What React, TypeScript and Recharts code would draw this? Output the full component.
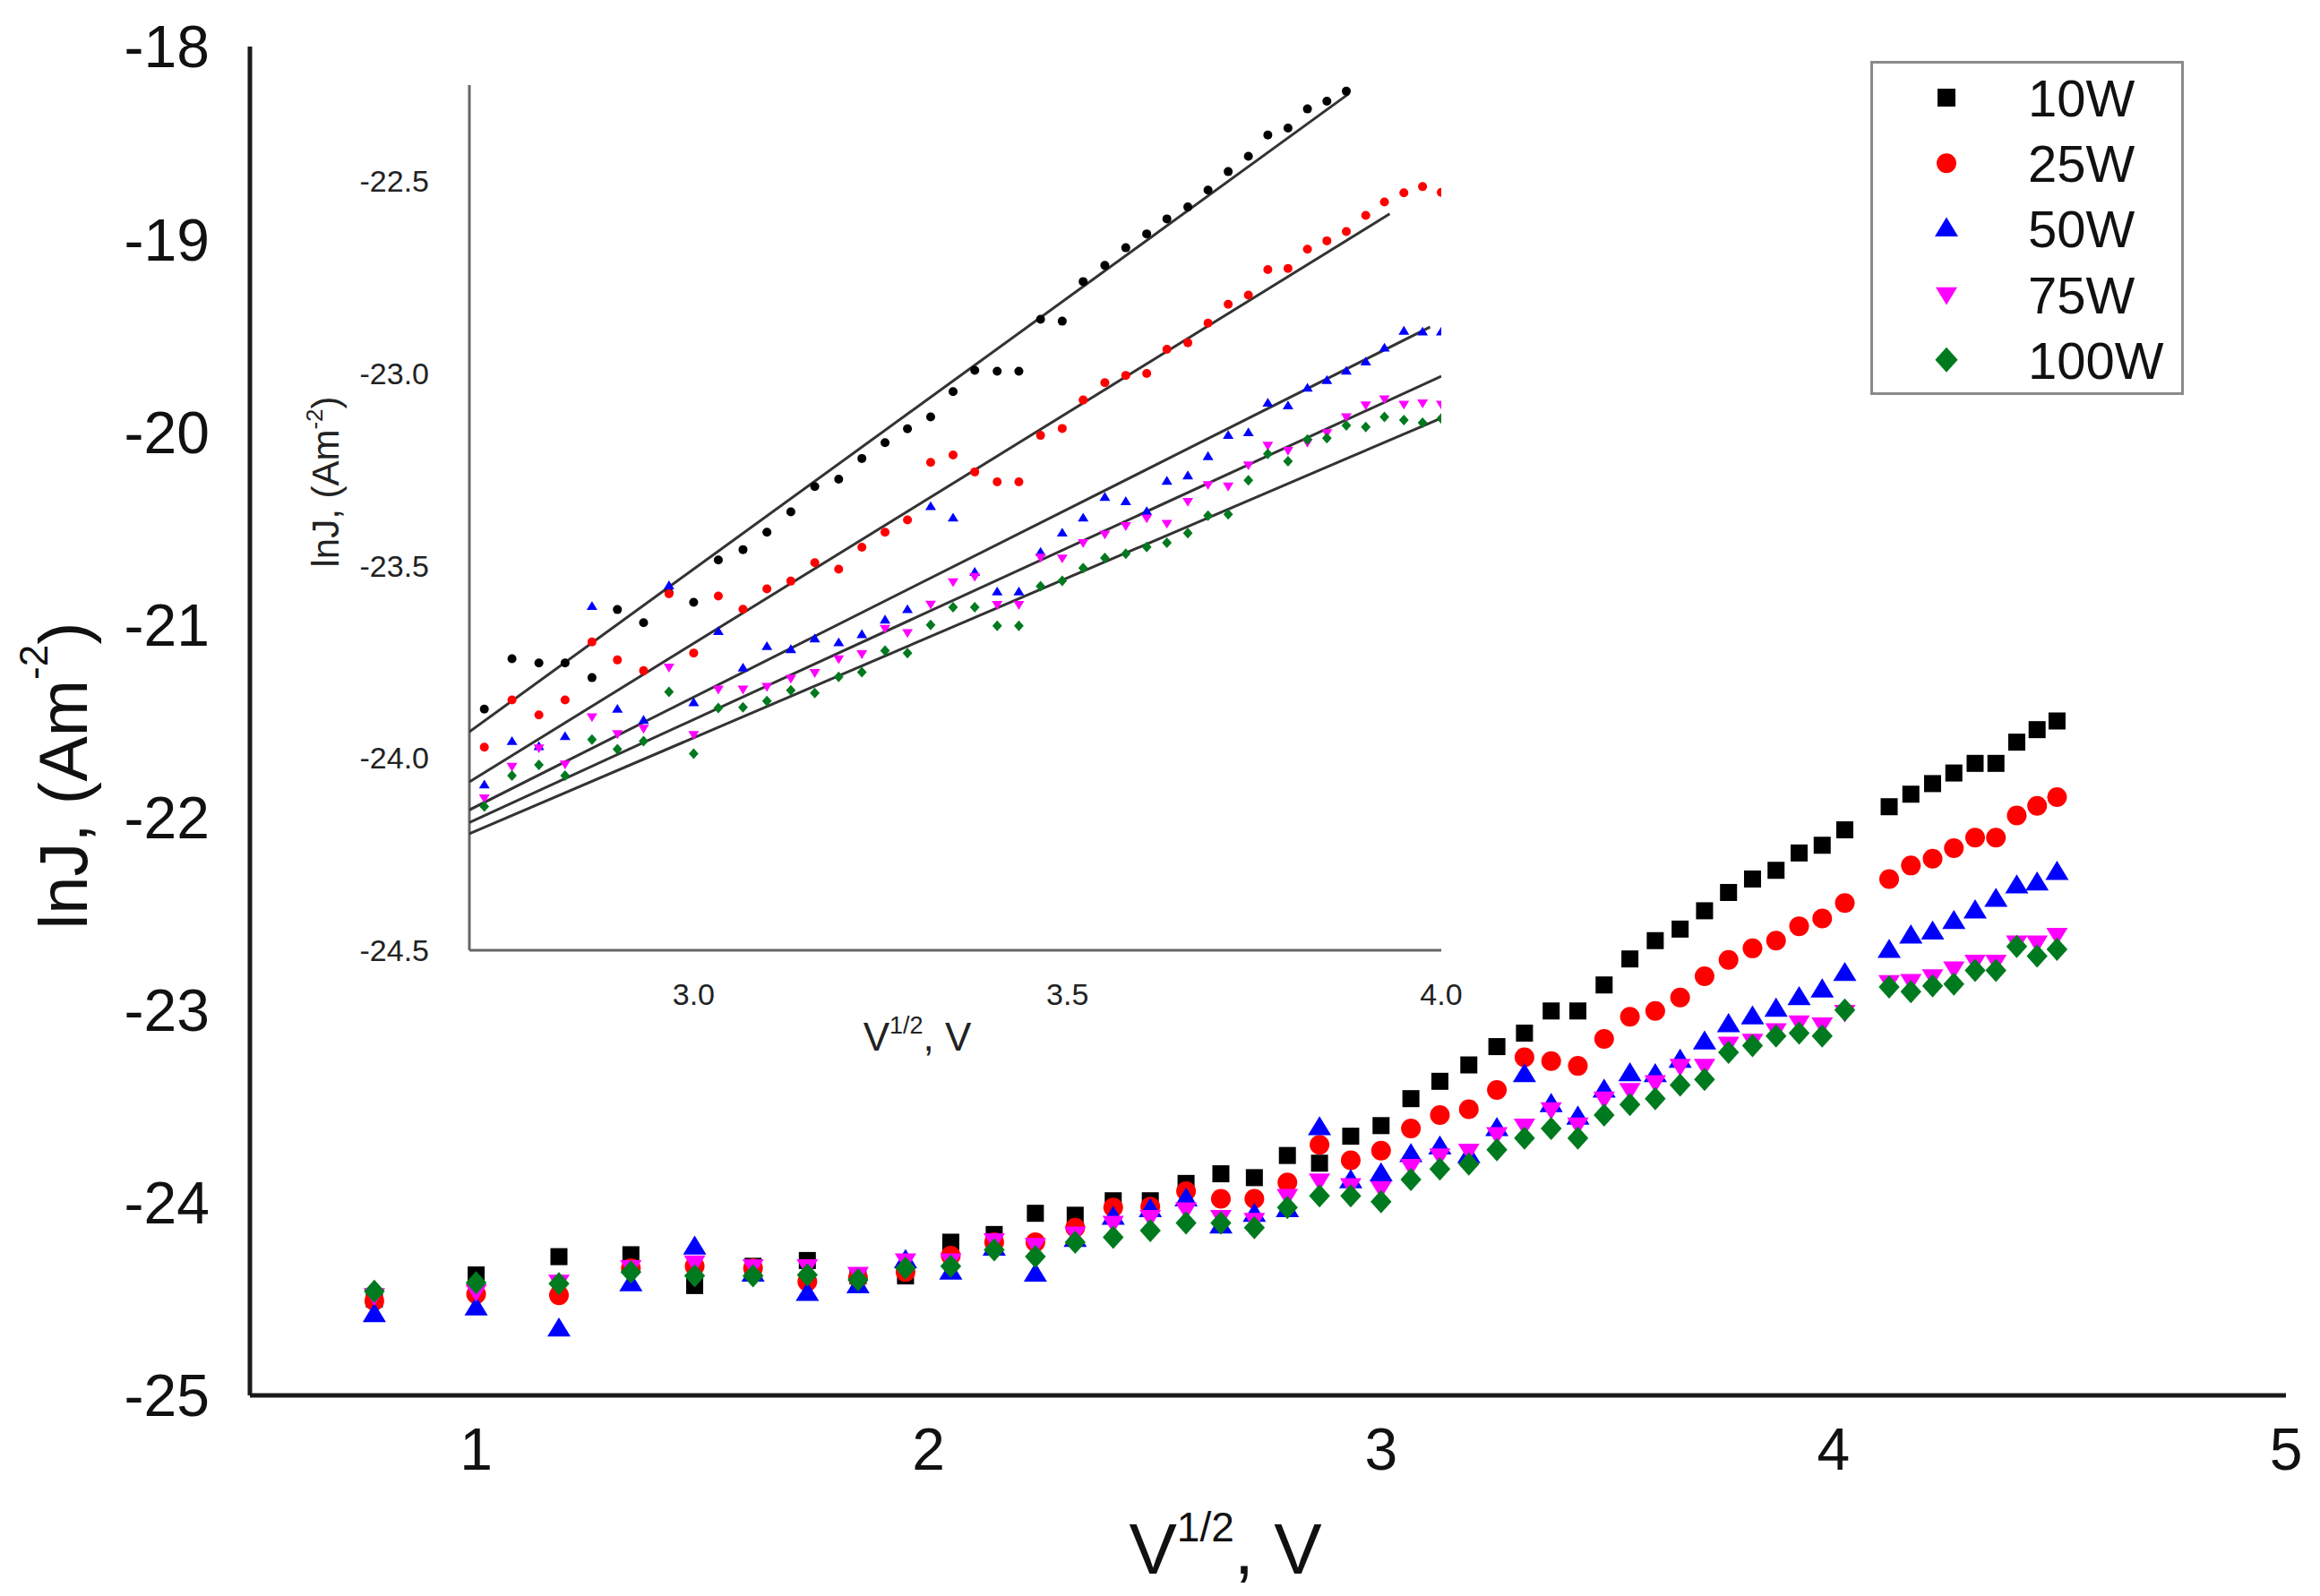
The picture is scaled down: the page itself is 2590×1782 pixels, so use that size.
import React from "react";
import { ScatterChart, Scatter, XAxis, YAxis, Legend } from "recharts";

const FONT = '"Liberation Sans", Arial, Helvetica, sans-serif';

const SERIES_NAMES = ["10W", "25W", "50W", "75W", "100W"];
const SERIES_COLORS = ["#000000", "#ff0000", "#0000ff", "#ff00ff", "#007a1e"];
const MAIN_SHAPES = ["square", "circle", "triangle", "triangleDown", "diamond"];
const INSET_SHAPES = ["circle", "circle", "triangle", "triangleDown", "diamond"];

// ---- main plot (V^1/2 vs lnJ) ----
const MAIN_X = [
  0.775, 1.0, 1.183, 1.342, 1.483, 1.612, 1.732, 1.844, 1.949, 2.049,
  2.145, 2.236, 2.324, 2.408, 2.49, 2.569, 2.646, 2.72, 2.793, 2.864,
  2.933, 3.0, 3.066, 3.13, 3.194, 3.256, 3.317, 3.376, 3.435, 3.493,
  3.55, 3.606, 3.661, 3.715, 3.768, 3.821, 3.873, 3.924, 3.975, 4.025,
  4.123, 4.171, 4.219, 4.266, 4.313, 4.359, 4.405, 4.45, 4.494,
];
const MAIN_10W = [
  -24.5, -24.375, -24.28, -24.27, -24.43, -24.33, -24.3, -24.38, -24.38, -24.205,
  -24.165, -24.055, -24.065, -23.99, -23.99, -23.9, -23.85, -23.87, -23.755, -23.795,
  -23.655, -23.6, -23.46, -23.37, -23.285, -23.19, -23.12, -23.005, -23.005, -22.87,
  -22.735, -22.64, -22.58, -22.485, -22.39, -22.32, -22.275, -22.185, -22.145, -22.065,
  -21.945, -21.88, -21.825, -21.77, -21.72, -21.72, -21.61, -21.545, -21.5,
];
const MAIN_25W = [
  -24.51, -24.475, -24.48, -24.34, -24.33, -24.34, -24.41, -24.39, -24.36, -24.275,
  -24.205, -24.205, -24.13, -24.025, -24.02, -23.94, -23.98, -23.98, -23.895, -23.7,
  -23.78, -23.73, -23.615, -23.545, -23.515, -23.415, -23.245, -23.265, -23.29, -23.15,
  -23.035, -23.005, -22.935, -22.825, -22.74, -22.68, -22.64, -22.565, -22.525, -22.445,
  -22.32, -22.25, -22.215, -22.16, -22.105, -22.105, -21.99, -21.94, -21.895,
];
const MAIN_50W = [
  -24.58, -24.545, -24.655, -24.42, -24.23, -24.37, -24.47, -24.43, -24.3, -24.36,
  -24.235, -24.37, -24.19, -24.075, -24.035, -23.98, -24.12, -24.06, -24.035, -23.61,
  -23.885, -23.85, -23.75, -23.71, -23.755, -23.615, -23.335, -23.49, -23.555, -23.415,
  -23.33, -23.335, -23.26, -23.165, -23.075, -23.035, -22.995, -22.935, -22.895, -22.81,
  -22.69, -22.615, -22.595, -22.54, -22.485, -22.425, -22.355, -22.34, -22.285,
];
const MAIN_75W = [
  -24.48, -24.46, -24.41, -24.335, -24.31, -24.33, -24.33, -24.37, -24.3, -24.3,
  -24.195, -24.22, -24.16, -24.105, -24.075, -24.035, -24.075, -24.09, -23.965, -23.885,
  -23.91, -23.925, -23.81, -23.755, -23.73, -23.645, -23.6, -23.515, -23.595, -23.46,
  -23.415, -23.375, -23.29, -23.29, -23.175, -23.16, -23.105, -23.065, -23.075, -23.01,
  -22.855, -22.85, -22.825, -22.785, -22.75, -22.75, -22.65, -22.65, -22.61,
];
const MAIN_100W = [
  -24.46, -24.415, -24.42, -24.36, -24.38, -24.38, -24.375, -24.4, -24.34, -24.33,
  -24.245, -24.28, -24.205, -24.18, -24.145, -24.105, -24.105, -24.13, -24.025, -23.965,
  -23.965, -23.995, -23.88, -23.825, -23.8, -23.725, -23.665, -23.615, -23.665, -23.545,
  -23.49, -23.46, -23.39, -23.36, -23.22, -23.185, -23.135, -23.12, -23.135, -23.0,
  -22.88, -22.905, -22.875, -22.865, -22.795, -22.795, -22.67, -22.72, -22.685,
];
const MAIN_X_TICKS = [1, 2, 3, 4, 5];
const MAIN_Y_TICKS = [-25, -24, -23, -22, -21, -20, -19, -18];

// ---- inset (zoom on 2.7..4.0) ----
const INSET_X = [
  2.72, 2.757, 2.793, 2.828, 2.864, 2.898, 2.933, 2.967, 3.0, 3.033,
  3.066, 3.098, 3.13, 3.162, 3.194, 3.225, 3.256, 3.286, 3.317, 3.347,
  3.376, 3.406, 3.435, 3.464, 3.493, 3.521, 3.55, 3.578, 3.606, 3.633,
  3.661, 3.688, 3.715, 3.742, 3.768, 3.795, 3.821, 3.847, 3.873, 3.899,
  3.924, 3.95, 3.975, 4.0,
];
const INSET_10W = [
  -23.873, -23.742, -23.753, -23.753, -23.791, -23.614, -23.648, -23.57, -23.595, -23.485,
  -23.458, -23.413, -23.36, -23.294, -23.275, -23.221, -23.18, -23.144, -23.113, -23.047,
  -22.992, -22.994, -22.994, -22.859, -22.864, -22.761, -22.719, -22.673, -22.637, -22.598,
  -22.567, -22.523, -22.475, -22.435, -22.38, -22.362, -22.312, -22.292, -22.266, null,
  null, null, null, null,
];
const INSET_25W = [
  -23.972, -23.849, -23.888, -23.849, -23.698, -23.745, -23.773, -23.573, -23.727, -23.579,
  -23.613, -23.56, -23.54, -23.492, -23.509, -23.452, -23.413, -23.381, -23.231, -23.212,
  -23.256, -23.282, -23.282, -23.161, -23.143, -23.069, -23.024, -23.005, -23.0, -22.937,
  -22.92, -22.869, -22.82, -22.796, -22.73, -22.727, -22.677, -22.655, -22.631, -22.589,
  -22.554, -22.53, -22.514, -22.529,
];
const INSET_50W = [
  -24.07, -23.957, -23.97, -23.944, -23.606, -23.873, -23.902, -23.552, -23.856, -23.671,
  -23.766, -23.71, -23.718, -23.69, -23.7, -23.679, -23.641, -23.614, -23.346, -23.376,
  -23.517, -23.568, -23.568, -23.465, -23.415, -23.376, -23.322, -23.333, -23.359, -23.28,
  -23.266, -23.216, -23.161, -23.154, -23.077, -23.084, -23.038, -23.018, -22.994, -22.97,
  -22.934, -22.89, -22.892, -22.892,
];
const INSET_75W = [
  -24.104, -24.022, -23.974, -24.016, -23.893, -23.937, -23.923, -23.764, -23.939, -23.821,
  -23.821, -23.814, -23.793, -23.778, -23.742, -23.729, -23.663, -23.674, -23.6, -23.542,
  -23.528, -23.601, -23.601, -23.478, -23.48, -23.44, -23.418, -23.396, -23.376, -23.39,
  -23.333, -23.289, -23.293, -23.238, -23.187, -23.2, -23.179, -23.154, -23.113, -23.082,
  -23.066, -23.08, -23.077, -23.08,
];
const INSET_100W = [
  -24.126, -24.046, -24.018, -24.046, -23.952, -23.977, -23.956, -23.828, -23.989, -23.87,
  -23.868, -23.852, -23.824, -23.831, -23.789, -23.777, -23.721, -23.727, -23.654, -23.608,
  -23.608, -23.656, -23.656, -23.553, -23.539, -23.506, -23.48, -23.469, -23.451, -23.44,
  -23.415, -23.37, -23.366, -23.278, -23.209, -23.228, -23.172, -23.168, -23.135, -23.139,
  -23.113, -23.121, -23.128, -23.117,
];
// straight fit lines in the inset: start / end per series
const FIT_START_X = [2.7, 2.7, 2.7, 2.7, 2.7];
const FIT_END_X = [3.876, 3.931, 3.985, 4.0, 4.0];
const FIT_START_Y = [-23.932, -24.062, -24.135, -24.168, -24.197];
const FIT_END_Y = [-22.273, -22.585, -22.879, -23.007, -23.116];
const INSET_X_TICKS = [3.0, 3.5, 4.0];
const INSET_Y_TICKS = [-24.5, -24.0, -23.5, -23.0, -22.5];

const MAIN_SERIES = [MAIN_10W, MAIN_25W, MAIN_50W, MAIN_75W, MAIN_100W];
const INSET_SERIES = [INSET_10W, INSET_25W, INSET_50W, INSET_75W, INSET_100W];

const MAIN_SIZE: Record<string, number> = { square: 19, circle: 22, triangle: 26, triangleDown: 24, diamond: 26 };
const INSET_SIZE: Record<string, number> = { circle: 10, triangle: 12, triangleDown: 12, diamond: 12 };
const LEGEND_SIZE: Record<string, number> = { square: 20, circle: 22, triangle: 26, triangleDown: 24, diamond: 28 };

function toPoints(xs: number[], ys: (number | null)[]) {
  return xs.map((x, i) => ({ x, y: ys[i] })).filter((p) => p.y != null);
}

function Marker({ kind, cx, cy, s, fill }: { kind: string; cx: number; cy: number; s: number; fill: string }) {
  const h = s * 0.82;
  switch (kind) {
    case "square":
      return <rect x={cx - s / 2} y={cy - s / 2} width={s} height={s} fill={fill} />;
    case "circle":
      return <circle cx={cx} cy={cy} r={s / 2} fill={fill} />;
    case "triangle":
      return <polygon points={`${cx},${cy - h * 0.6} ${cx + s / 2},${cy + h * 0.4} ${cx - s / 2},${cy + h * 0.4}`} fill={fill} />;
    case "triangleDown":
      return <polygon points={`${cx},${cy + h * 0.6} ${cx + s / 2},${cy - h * 0.4} ${cx - s / 2},${cy - h * 0.4}`} fill={fill} />;
    default:
      return <polygon points={`${cx},${cy - s / 2} ${cx + s * 0.45},${cy} ${cx},${cy + s / 2} ${cx - s * 0.45},${cy}`} fill={fill} />;
  }
}

const makeShape = (kind: string, s: number, fill: string) => (props: any) =>
  props.cx == null ? <g /> : <Marker kind={kind} cx={props.cx} cy={props.cy} s={s} fill={fill} />;

const noShape = () => <g />;

function LegendBox() {
  return (
    <svg width={350} height={373} style={{ display: "block" }}>
      <rect x={1.5} y={1.5} width={347} height={370} fill="#fff" stroke="#8a8a8a" strokeWidth={3} />
      {SERIES_NAMES.map((name, i) => {
        const cy = 41 + i * 73.2;
        const kind = MAIN_SHAPES[i];
        return (
          <g key={name}>
            <Marker kind={kind} cx={85} cy={cy} s={LEGEND_SIZE[kind]} fill={SERIES_COLORS[i]} />
            <text x={176} y={cy + 21} fontFamily={FONT} fontSize={58} fill="#111">
              {name}
            </text>
          </g>
        );
      })}
    </svg>
  );
}

const MainYTitle = () => (
  <text transform="translate(97, 866) rotate(-90)" textAnchor="middle" fontFamily={FONT} fontSize={76} fill="#111">
    lnJ, (Am
    <tspan fontSize={44} dy={-44}>-2</tspan>
    <tspan dy={44}>)</tspan>
  </text>
);

const MainXTitle = () => (
  <text x={1368} y={1757} textAnchor="middle" fontFamily={FONT} fontSize={80} fill="#111">
    V<tspan fontSize={46} dy={-36}>1/2</tspan>
    <tspan dy={36}>, V</tspan>
  </text>
);

const InsetYTitle = () => (
  <text transform="translate(78, 478) rotate(-90)" textAnchor="middle" fontFamily={FONT} fontSize={42} fill="#222">
    lnJ, (Am
    <tspan fontSize={26} dy={-18}>-2</tspan>
    <tspan dy={18}>)</tspan>
  </text>
);

const InsetXTitle = () => (
  <text x={724} y={1113} textAnchor="middle" fontFamily={FONT} fontSize={44} fill="#222">
    V<tspan fontSize={27} dy={-19}>1/2</tspan>
    <tspan dy={19}>, V</tspan>
  </text>
);

export default function App() {
  return (
    <div style={{ position: "absolute", left: 0, top: 0, width: 2590, height: 1782, background: "#fff", overflow: "hidden" }}>
      <div style={{ position: "absolute", left: 0, top: 0 }}>
        <ScatterChart width={2590} height={1782} margin={{ top: 52, right: 38, bottom: 124, left: 79 }}>
          <XAxis
            type="number"
            dataKey="x"
            domain={[0.5, 5]}
            ticks={MAIN_X_TICKS}
            allowDataOverflow
            height={100}
            tickLine={false}
            tickSize={0}
            tickMargin={36}
            axisLine={{ stroke: "#1a1a1a", strokeWidth: 5 }}
            tick={{ fontSize: 66, fill: "#111", fontFamily: FONT }}
            label={{ content: MainXTitle }}
          />
          <YAxis
            type="number"
            dataKey="y"
            domain={[-25, -18]}
            ticks={MAIN_Y_TICKS}
            allowDataOverflow
            width={200}
            tickLine={false}
            tickSize={0}
            tickMargin={45}
            axisLine={{ stroke: "#1a1a1a", strokeWidth: 5 }}
            tick={{ fontSize: 66, fill: "#111", fontFamily: FONT }}
            label={{ content: MainYTitle }}
          />
          {MAIN_SERIES.map((ys, i) => (
            <Scatter
              key={SERIES_NAMES[i]}
              name={SERIES_NAMES[i]}
              data={toPoints(MAIN_X, ys)}
              shape={makeShape(MAIN_SHAPES[i], MAIN_SIZE[MAIN_SHAPES[i]], SERIES_COLORS[i])}
              isAnimationActive={false}
            />
          ))}
          <Legend
            layout="vertical"
            align="center"
            verticalAlign="middle"
            content={() => <LegendBox />}
            wrapperStyle={{ left: 2088, top: 68, width: 350, height: 373 }}
          />
        </ScatterChart>
      </div>

      <div style={{ position: "absolute", left: 300, top: 60 }}>
        <ScatterChart width={1400} height={1150} margin={{ top: 35, right: 91, bottom: 89, left: 100 }}>
          <XAxis
            type="number"
            dataKey="x"
            domain={[2.7, 4.0]}
            ticks={INSET_X_TICKS}
            allowDataOverflow
            height={60}
            tickLine={false}
            tickSize={0}
            tickMargin={37}
            tickFormatter={(v: number) => v.toFixed(1)}
            axisLine={{ stroke: "#666", strokeWidth: 3 }}
            tick={{ fontSize: 34, fill: "#222", fontFamily: FONT }}
            label={{ content: InsetXTitle }}
          />
          <YAxis
            type="number"
            dataKey="y"
            domain={[-24.5, -22.25]}
            ticks={INSET_Y_TICKS}
            allowDataOverflow
            width={124}
            tickLine={false}
            tickSize={0}
            tickMargin={45}
            tickFormatter={(v: number) => v.toFixed(1)}
            axisLine={{ stroke: "#666", strokeWidth: 3 }}
            tick={{ fontSize: 34, fill: "#222", fontFamily: FONT }}
            label={{ content: InsetYTitle }}
          />
          {FIT_START_X.map((x0, i) => (
            <Scatter
              key={`fit-${i}`}
              data={[
                { x: x0, y: FIT_START_Y[i] },
                { x: FIT_END_X[i], y: FIT_END_Y[i] },
              ]}
              line={{ stroke: "#333", strokeWidth: 3 }}
              shape={noShape}
              isAnimationActive={false}
            />
          ))}
          {INSET_SERIES.map((ys, i) => (
            <Scatter
              key={`inset-${SERIES_NAMES[i]}`}
              data={toPoints(INSET_X, ys)}
              shape={makeShape(INSET_SHAPES[i], INSET_SIZE[INSET_SHAPES[i]], SERIES_COLORS[i])}
              isAnimationActive={false}
            />
          ))}
        </ScatterChart>
      </div>
    </div>
  );
}
